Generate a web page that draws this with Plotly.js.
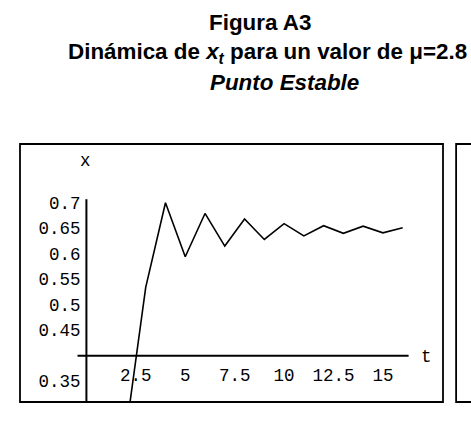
<!DOCTYPE html>
<html>
<head>
<meta charset="utf-8">
<script src="https://cdn.plot.ly/plotly-3.0.1.min.js"></script>
<style>html,body{margin:0;padding:0;background:#fff;}#chart{width:471px;height:423px;}</style>
</head>
<body>
<div id="chart"></div>
<script>
// Data
const tValues = [1, 2, 3, 4, 5, 6, 7, 8, 9, 10, 11, 12, 13, 14, 15, 16];
const xValues = [0.10, 0.25, 0.534, 0.700, 0.594, 0.679, 0.615, 0.668, 0.628, 0.659, 0.635, 0.655, 0.640, 0.654, 0.641, 0.651];
const xTickVals = [2.5, 5, 7.5, 10, 12.5, 15];
const xTickText = ['2.5', '5', '7.5', '10', '12.5', '15'];
const yTickVals = [0.35, 0.45, 0.5, 0.55, 0.6, 0.65, 0.7];
const yTickText = ['0.35', '0.45', '0.5', '0.55', '0.6', '0.65', '0.7'];
const titleLines = ['<b>Figura A3</b>', '<b>Dinámica de <i>x<sub>t</sub></i> para un valor de μ=2.8</b>', '<b><i>Punto Estable</i></b>'];

const xRange = [-3.36, 18.04];
const yRange = [0.309, 0.8153];
const xCross = 0;     // vertical axis at t = 0
const yCross = 0.4;   // horizontal axis at x = 0.4

const posY = (xCross - xRange[0]) / (xRange[1] - xRange[0]);
const posX = (yCross - yRange[0]) / (yRange[1] - yRange[0]);

const mono = {family: 'Liberation Mono, monospace', size: 17.5, color: '#000'};
const titleFont = {family: 'Liberation Sans, Arial, sans-serif', size: 22.4, color: '#000'};

const data = [{
  x: tValues, y: xValues, type: 'scatter', mode: 'lines',
  line: {color: '#000', width: 1.6}, hoverinfo: 'skip'
}];

const layout = {
  width: 471, height: 423,
  margin: {l: 20, r: 28, t: 144, b: 21},
  paper_bgcolor: '#fff', plot_bgcolor: '#fff',
  showlegend: false,
  xaxis: {
    range: xRange, anchor: 'free', position: posX,
    showgrid: false, zeroline: false, showline: false,
    tickvals: xTickVals, ticktext: xTickText, ticks: '',
    tickfont: mono, ticklabelstandoff: 7
  },
  yaxis: {
    range: yRange, anchor: 'free', position: posY,
    showgrid: false, zeroline: false, showline: false,
    tickvals: yTickVals, ticktext: yTickText, ticks: '',
    tickfont: mono, ticklabelstandoff: 6
  },
  shapes: [
    {type: 'rect', xref: 'paper', yref: 'paper', x0: 0, x1: 1, y0: 0, y1: 1, line: {color: '#000', width: 1.8}},
    {type: 'rect', xref: 'paper', yref: 'paper', x0: 1.031, x1: 1.3, y0: 0, y1: 1, line: {color: '#000', width: 1.8}},
    {type: 'line', xref: 'x', yref: 'y', x0: -0.45, x1: 16.3, y0: yCross, y1: yCross, line: {color: '#000', width: 2}},
    {type: 'line', xref: 'x', yref: 'y', x0: xCross, x1: xCross, y0: yRange[0], y1: 0.707, line: {color: '#000', width: 2}}
  ],
  annotations: [
    {xref: 'paper', yref: 'paper', x: (260 - 20) / 423, y: (401.7 - 23) / 257.3, text: titleLines[0], showarrow: false, font: titleFont, xanchor: 'center', yanchor: 'middle'},
    {xref: 'paper', yref: 'paper', x: (267.5 - 20) / 423, y: (401.7 - 54) / 257.3, text: titleLines[1], showarrow: false, font: titleFont, xanchor: 'center', yanchor: 'middle'},
    {xref: 'paper', yref: 'paper', x: (284.5 - 20) / 423, y: (401.7 - 83) / 257.3, text: titleLines[2], showarrow: false, font: titleFont, xanchor: 'center', yanchor: 'middle'},
    {xref: 'x', yref: 'y', x: -0.05, y: 0.7825, text: 'x', showarrow: false, font: mono, xanchor: 'center', yanchor: 'middle'},
    {xref: 'x', yref: 'y', x: 17.2, y: 0.397, text: 't', showarrow: false, font: mono, xanchor: 'center', yanchor: 'middle'}
  ]
};

Plotly.newPlot('chart', data, layout, {displayModeBar: false, staticPlot: true});
</script>
</body>
</html>
